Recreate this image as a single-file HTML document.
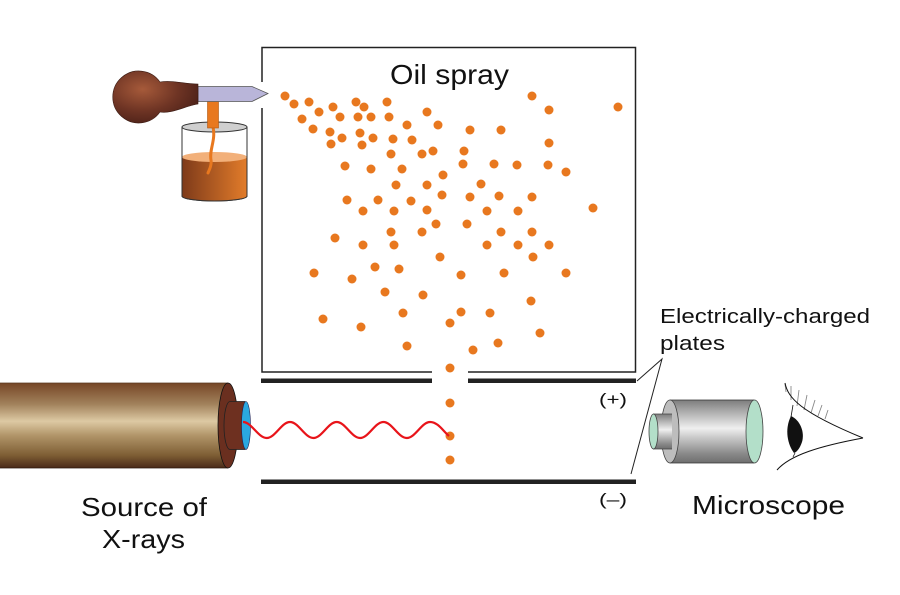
<!DOCTYPE html>
<html><head><meta charset="utf-8"><style>
html,body{margin:0;padding:0;background:#fff;}
svg{display:block;}
text{font-family:"Liberation Sans","DejaVu Sans",sans-serif;fill:#111;}
</style></head><body>
<svg width="900" height="595" viewBox="0 0 900 595" xmlns="http://www.w3.org/2000/svg">
<defs>
<radialGradient id="bulb" cx="0.35" cy="0.35" r="0.7">
<stop offset="0" stop-color="#a65a3a"/><stop offset="0.6" stop-color="#6e3424"/><stop offset="1" stop-color="#4e2219"/>
</radialGradient>
<linearGradient id="liq" x1="0" y1="0" x2="1" y2="0">
<stop offset="0" stop-color="#7e3a1a"/><stop offset="1" stop-color="#e27c2a"/>
</linearGradient>
<linearGradient id="tube" x1="0" y1="0" x2="0" y2="1">
<stop offset="0" stop-color="#764626"/><stop offset="0.25" stop-color="#a2825c"/><stop offset="0.45" stop-color="#ddc9a3"/><stop offset="0.62" stop-color="#b09468"/><stop offset="0.85" stop-color="#7e5e34"/><stop offset="1" stop-color="#4a2a18"/>
</linearGradient>
<linearGradient id="metal" x1="0" y1="0" x2="0" y2="1">
<stop offset="0" stop-color="#7d7d7d"/><stop offset="0.2" stop-color="#b0b0b0"/><stop offset="0.45" stop-color="#efefef"/><stop offset="0.6" stop-color="#c8c8c8"/><stop offset="0.85" stop-color="#8a8a8a"/><stop offset="1" stop-color="#6e6e6e"/>
</linearGradient>
</defs>

<!-- Box -->
<path d="M262,82 V47.5 H635.5 V372 H468 M432,372 H262 V108" fill="none" stroke="#222" stroke-width="1.5"/>
<!-- plates -->
<rect x="261" y="378.5" width="171" height="4.5" fill="#222"/>
<rect x="468" y="378.5" width="168" height="4.5" fill="#222"/>
<rect x="261" y="479.5" width="375" height="4.5" fill="#222"/>

<!-- Pipette + jar -->
<path d="M182,127 V196 A32.5,5 0 0 0 247,196 V127" fill="#fff" stroke="#333" stroke-width="1"/>
<path d="M182,157 V196 A32.5,5 0 0 0 247,196 V157 Z" fill="url(#liq)"/>
<ellipse cx="214.5" cy="157" rx="32.5" ry="5" fill="#f2b07a"/>
<path d="M182,127 V196 A32.5,5 0 0 0 247,196 V127" fill="none" stroke="#333" stroke-width="1"/>
<ellipse cx="214.5" cy="127" rx="32.5" ry="5" fill="#cfcfcf" stroke="#333" stroke-width="1"/>
<path d="M213,127 C216,140 209,150 211,160 C212,166 209,170 208,173" fill="none" stroke="#e8781f" stroke-width="3" stroke-linecap="round"/>
<rect x="207.5" y="100" width="11" height="28" fill="#e8781f" stroke="#b05510" stroke-width="0.6"/>
<path d="M198,86.5 H252 L268,93.5 L252,101.5 H198 Z" fill="#b9b5d9" stroke="#555" stroke-width="0.8"/>
<path d="M198,84 C185,84 172,80 160,82 A26,26 0 1 0 160,112 C172,114 185,106 198,104 Z" fill="url(#bulb)" stroke="#3a1a12" stroke-width="0.6"/>

<!-- Dots -->
<g fill="#e8781f">
<circle cx="285" cy="96" r="4.5"/><circle cx="294" cy="104" r="4.5"/><circle cx="309" cy="102" r="4.5"/><circle cx="319" cy="112" r="4.5"/>
<circle cx="333" cy="107" r="4.5"/><circle cx="356" cy="102" r="4.5"/><circle cx="364" cy="107" r="4.5"/><circle cx="387" cy="102" r="4.5"/>
<circle cx="302" cy="119" r="4.5"/><circle cx="340" cy="117" r="4.5"/><circle cx="358" cy="117" r="4.5"/><circle cx="371" cy="117" r="4.5"/>
<circle cx="389" cy="117" r="4.5"/><circle cx="427" cy="112" r="4.5"/><circle cx="532" cy="96" r="4.5"/><circle cx="549" cy="110" r="4.5"/>
<circle cx="618" cy="107" r="4.5"/><circle cx="313" cy="129" r="4.5"/><circle cx="330" cy="132" r="4.5"/><circle cx="360" cy="133" r="4.5"/>
<circle cx="407" cy="125" r="4.5"/><circle cx="438" cy="125" r="4.5"/><circle cx="470" cy="130" r="4.5"/><circle cx="501" cy="130" r="4.5"/>
<circle cx="331" cy="144" r="4.5"/><circle cx="342" cy="138" r="4.5"/><circle cx="362" cy="145" r="4.5"/><circle cx="373" cy="138" r="4.5"/>
<circle cx="393" cy="139" r="4.5"/><circle cx="412" cy="140" r="4.5"/><circle cx="391" cy="154" r="4.5"/><circle cx="422" cy="154" r="4.5"/>
<circle cx="433" cy="151" r="4.5"/><circle cx="464" cy="151" r="4.5"/><circle cx="549" cy="143" r="4.5"/><circle cx="345" cy="166" r="4.5"/>
<circle cx="371" cy="169" r="4.5"/><circle cx="402" cy="169" r="4.5"/><circle cx="463" cy="164" r="4.5"/><circle cx="494" cy="164" r="4.5"/>
<circle cx="517" cy="165" r="4.5"/><circle cx="548" cy="165" r="4.5"/><circle cx="566" cy="172" r="4.5"/><circle cx="443" cy="175" r="4.5"/>
<circle cx="396" cy="185" r="4.5"/><circle cx="427" cy="185" r="4.5"/><circle cx="481" cy="184" r="4.5"/><circle cx="347" cy="200" r="4.5"/>
<circle cx="378" cy="200" r="4.5"/><circle cx="411" cy="201" r="4.5"/><circle cx="442" cy="195" r="4.5"/><circle cx="470" cy="197" r="4.5"/>
<circle cx="499" cy="196" r="4.5"/><circle cx="532" cy="197" r="4.5"/><circle cx="593" cy="208" r="4.5"/><circle cx="363" cy="211" r="4.5"/>
<circle cx="394" cy="211" r="4.5"/><circle cx="427" cy="210" r="4.5"/><circle cx="487" cy="211" r="4.5"/><circle cx="518" cy="211" r="4.5"/>
<circle cx="436" cy="224" r="4.5"/><circle cx="467" cy="224" r="4.5"/><circle cx="391" cy="232" r="4.5"/><circle cx="422" cy="232" r="4.5"/>
<circle cx="501" cy="232" r="4.5"/><circle cx="532" cy="232" r="4.5"/><circle cx="335" cy="238" r="4.5"/><circle cx="363" cy="245" r="4.5"/>
<circle cx="394" cy="245" r="4.5"/><circle cx="487" cy="245" r="4.5"/><circle cx="518" cy="245" r="4.5"/><circle cx="549" cy="245" r="4.5"/>
<circle cx="440" cy="257" r="4.5"/><circle cx="533" cy="257" r="4.5"/><circle cx="375" cy="267" r="4.5"/><circle cx="399" cy="269" r="4.5"/>
<circle cx="314" cy="273" r="4.5"/><circle cx="352" cy="279" r="4.5"/><circle cx="461" cy="275" r="4.5"/><circle cx="504" cy="273" r="4.5"/>
<circle cx="566" cy="273" r="4.5"/><circle cx="385" cy="292" r="4.5"/><circle cx="423" cy="295" r="4.5"/><circle cx="531" cy="301" r="4.5"/>
<circle cx="403" cy="313" r="4.5"/><circle cx="461" cy="312" r="4.5"/><circle cx="490" cy="313" r="4.5"/><circle cx="323" cy="319" r="4.5"/>
<circle cx="361" cy="327" r="4.5"/><circle cx="450" cy="323" r="4.5"/><circle cx="540" cy="333" r="4.5"/><circle cx="407" cy="346" r="4.5"/>
<circle cx="473" cy="350" r="4.5"/><circle cx="498" cy="343" r="4.5"/><circle cx="450" cy="368" r="4.5"/>
<circle cx="450" cy="403" r="4.5"/><circle cx="450" cy="436" r="4.5"/><circle cx="450" cy="460" r="4.5"/>
</g>

<!-- X-ray tube -->
<rect x="0" y="383" width="228" height="85" fill="url(#tube)"/>
<line x1="0" y1="383" x2="228" y2="383" stroke="#5a3a22" stroke-width="0.8"/>
<line x1="0" y1="468" x2="228" y2="468" stroke="#2a160c" stroke-width="0.8"/>
<ellipse cx="228" cy="425.5" rx="10" ry="42.5" fill="#6a2f1f" stroke="#111" stroke-width="0.8"/>
<path d="M230,401.5 H245 V449.5 H230 A6,24 0 0 1 230,401.5 Z" fill="#6e3020" stroke="#222" stroke-width="0.8"/>
<ellipse cx="246" cy="425.5" rx="4.5" ry="24" fill="#2aa8e0" stroke="#225" stroke-width="0.6"/>
<!-- wave -->
<path d="M243,422 C251.5,422 258.2,438 266.7,438 C275.2,438 281.5,422 290,422 C298.5,422 304.9,438 313.4,438 C321.9,438 328.2,422 336.7,422 C345.2,422 351.6,438 360.1,438 C368.6,438 374.9,422 383.4,422 C391.9,422 398.3,438 406.8,438 C415.3,438 421.6,422 430.1,422 C438,422 443,431 449,436" fill="none" stroke="#e8141a" stroke-width="2.2"/>

<!-- leader lines -->
<path d="M637,381 L662,359 L631,474" fill="none" stroke="#222" stroke-width="1"/>

<!-- Microscope -->
<path d="M670,400 H754 V463 H670 Z" fill="url(#metal)"/>
<line x1="670" y1="400" x2="754" y2="400" stroke="#333" stroke-width="0.8"/>
<line x1="670" y1="463" x2="754" y2="463" stroke="#333" stroke-width="0.8"/>
<ellipse cx="754.5" cy="431.5" rx="8.5" ry="31.5" fill="#b3dfc9" stroke="#444" stroke-width="0.8"/>
<ellipse cx="670" cy="431.5" rx="9" ry="31.5" fill="#bdbdbd" stroke="#444" stroke-width="0.8"/>
<path d="M653,414 H672 V449 H653 Z" fill="url(#metal)"/>
<line x1="653" y1="414" x2="672" y2="414" stroke="#444" stroke-width="0.8"/>
<line x1="653" y1="449" x2="672" y2="449" stroke="#444" stroke-width="0.8"/>
<ellipse cx="653.5" cy="431.5" rx="4.5" ry="17.5" fill="#b3dfc9" stroke="#444" stroke-width="0.8"/>

<!-- Eye -->
<g stroke="#888" stroke-width="0.9" fill="none">
<path d="M786,392 L785,384"/><path d="M791,400 L791,386"/><path d="M797,406 L799,390"/><path d="M804,410 L807,395"/><path d="M811,413 L815,400"/><path d="M818,416 L822,405"/><path d="M825,419 L828,410"/>
</g>
<path d="M785,383 C788,398 800,412 863,438" fill="none" stroke="#111" stroke-width="1"/>
<path d="M777,470 C790,455 820,446 863,438" fill="none" stroke="#111" stroke-width="1"/>
<path d="M793,405 L791,417" stroke="#111" stroke-width="0.8"/>
<path d="M795,453 L793,457" stroke="#111" stroke-width="0.8"/>
<path d="M791,416 C800,420 805,432 802,442 C800,448 797,452 794,453 C788,445 784,430 791,416 Z" fill="#111"/>

<!-- Labels -->
<text x="390" y="84" font-size="28" textLength="119" lengthAdjust="spacingAndGlyphs">Oil spray</text>
<text x="660" y="323" font-size="20" textLength="210" lengthAdjust="spacingAndGlyphs">Electrically-charged</text>
<text x="660" y="350" font-size="20" textLength="65" lengthAdjust="spacingAndGlyphs">plates</text>
<text x="599" y="405" font-size="17" textLength="28" lengthAdjust="spacingAndGlyphs">(+)</text>
<text x="599" y="505" font-size="17" textLength="28" lengthAdjust="spacingAndGlyphs">(–)</text>
<text x="81" y="516" font-size="26" textLength="126" lengthAdjust="spacingAndGlyphs">Source of</text>
<text x="102" y="548" font-size="26" textLength="83" lengthAdjust="spacingAndGlyphs">X-rays</text>
<text x="692" y="514" font-size="26" textLength="153" lengthAdjust="spacingAndGlyphs">Microscope</text>
</svg>
</body></html>
